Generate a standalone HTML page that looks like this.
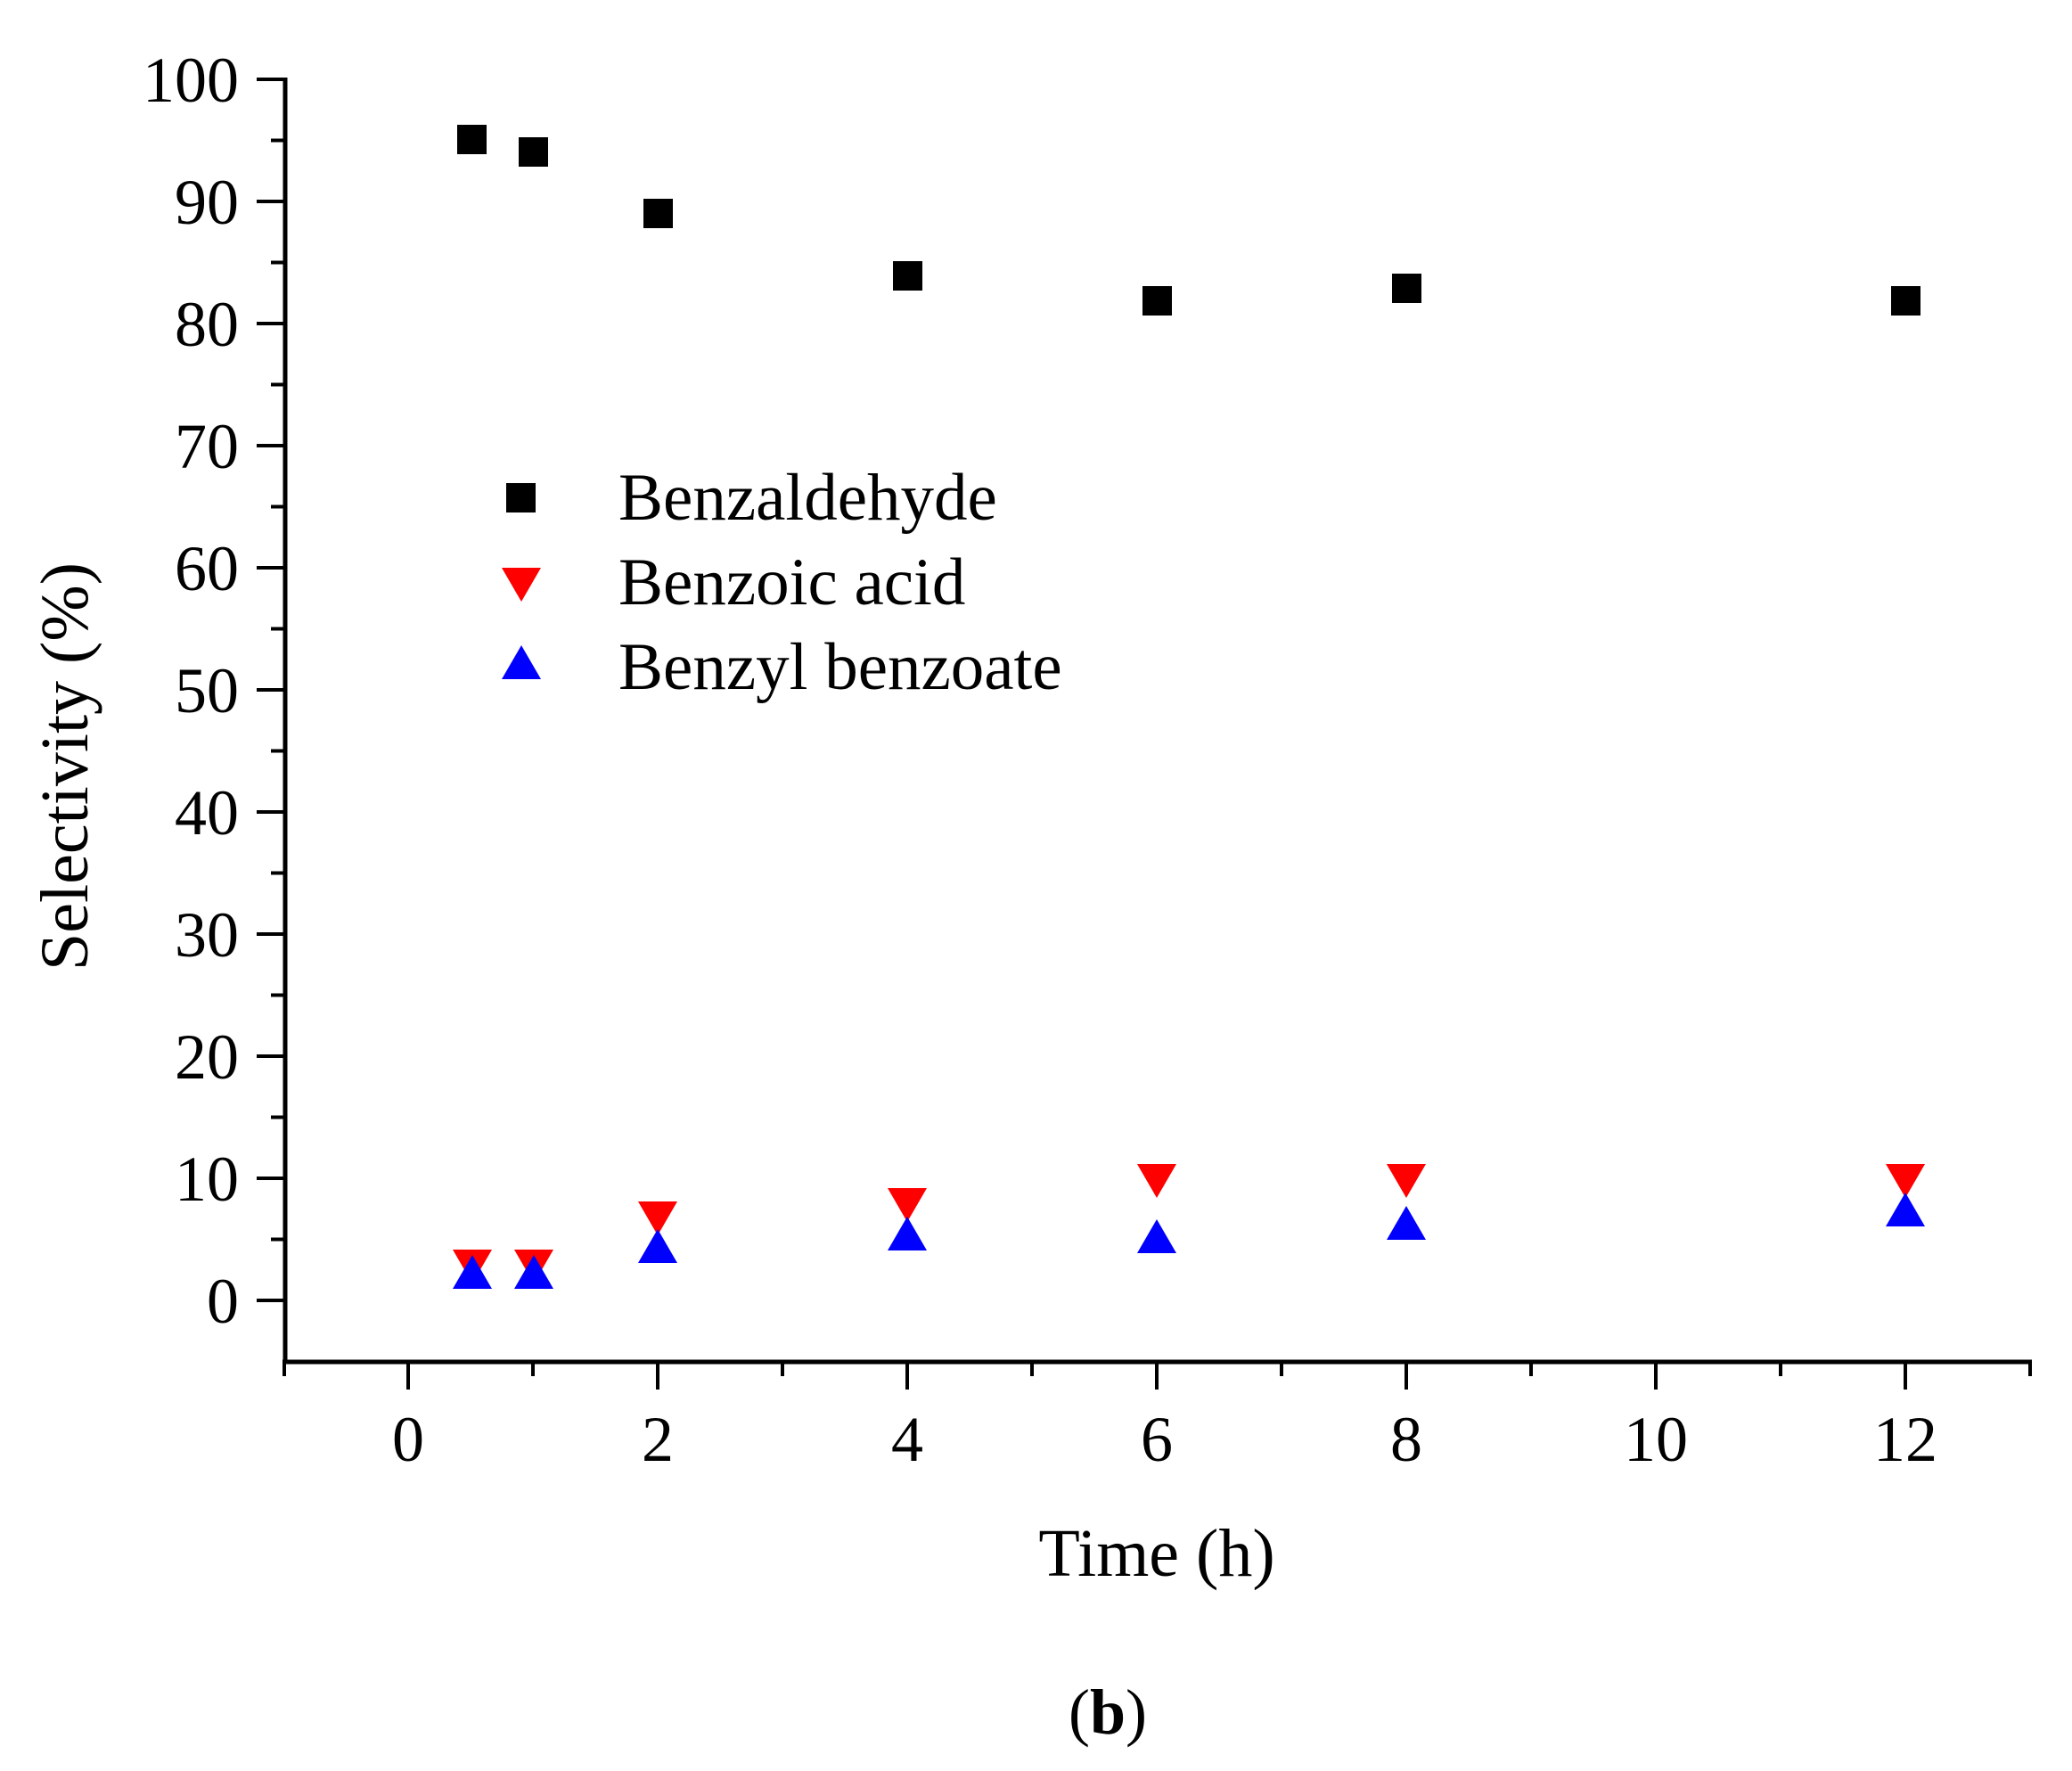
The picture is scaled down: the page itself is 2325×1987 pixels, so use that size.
<!DOCTYPE html>
<html><head><meta charset="utf-8"><style>
html,body{margin:0;padding:0;background:#fff}
svg{display:block}
text{font-family:"Liberation Serif",serif;fill:#000}
</style></head><body>
<svg width="2325" height="1987" viewBox="0 0 2325 1987" xmlns="http://www.w3.org/2000/svg">
<rect width="2325" height="1987" fill="#fff"/>
<g stroke="#000" stroke-width="5" fill="none">
<line x1="320" y1="87" x2="320" y2="1530"/>
<line x1="317" y1="1528" x2="2280" y2="1528"/>
</g>
<g stroke="#000" stroke-width="4">
<line x1="288" y1="89" x2="320" y2="89"/><line x1="288" y1="226" x2="320" y2="226"/>
<line x1="288" y1="363" x2="320" y2="363"/><line x1="288" y1="500" x2="320" y2="500"/>
<line x1="288" y1="637" x2="320" y2="637"/><line x1="288" y1="774" x2="320" y2="774"/>
<line x1="288" y1="911" x2="320" y2="911"/><line x1="288" y1="1048" x2="320" y2="1048"/>
<line x1="288" y1="1185" x2="320" y2="1185"/><line x1="288" y1="1322" x2="320" y2="1322"/>
<line x1="288" y1="1459" x2="320" y2="1459"/>
<line x1="304" y1="157.5" x2="320" y2="157.5"/><line x1="304" y1="294.5" x2="320" y2="294.5"/>
<line x1="304" y1="431.5" x2="320" y2="431.5"/><line x1="304" y1="568.5" x2="320" y2="568.5"/>
<line x1="304" y1="705.5" x2="320" y2="705.5"/><line x1="304" y1="842.5" x2="320" y2="842.5"/>
<line x1="304" y1="979.5" x2="320" y2="979.5"/><line x1="304" y1="1116.5" x2="320" y2="1116.5"/>
<line x1="304" y1="1253.5" x2="320" y2="1253.5"/><line x1="304" y1="1390.5" x2="320" y2="1390.5"/>
<line x1="458" y1="1528" x2="458" y2="1559"/><line x1="738" y1="1528" x2="738" y2="1559"/>
<line x1="1018" y1="1528" x2="1018" y2="1559"/><line x1="1298" y1="1528" x2="1298" y2="1559"/>
<line x1="1578" y1="1528" x2="1578" y2="1559"/><line x1="1858" y1="1528" x2="1858" y2="1559"/>
<line x1="2138" y1="1528" x2="2138" y2="1559"/>
<line x1="319" y1="1528" x2="319" y2="1544"/><line x1="598" y1="1528" x2="598" y2="1544"/>
<line x1="878" y1="1528" x2="878" y2="1544"/><line x1="1158" y1="1528" x2="1158" y2="1544"/>
<line x1="1438" y1="1528" x2="1438" y2="1544"/><line x1="1718" y1="1528" x2="1718" y2="1544"/>
<line x1="1998" y1="1528" x2="1998" y2="1544"/><line x1="2278" y1="1528" x2="2278" y2="1544"/>
</g>
<g font-size="72" text-anchor="end">
<text x="268" y="114">100</text><text x="268" y="251">90</text><text x="268" y="388">80</text>
<text x="268" y="525">70</text><text x="268" y="662">60</text><text x="268" y="799">50</text>
<text x="268" y="936">40</text><text x="268" y="1073">30</text><text x="268" y="1210">20</text>
<text x="268" y="1347">10</text><text x="268" y="1484">0</text>
</g>
<g font-size="72" text-anchor="middle">
<text x="458" y="1639">0</text><text x="738" y="1639">2</text><text x="1018" y="1639">4</text>
<text x="1298" y="1639">6</text><text x="1578" y="1639">8</text><text x="1858" y="1639">10</text>
<text x="2138" y="1639">12</text>
</g>
<text x="1298" y="1768" font-size="76" text-anchor="middle">Time (h)</text>
<text x="1243" y="1945" font-size="72" text-anchor="middle">(<tspan font-weight="bold">b</tspan>)</text>
<text transform="translate(98,860) rotate(-90)" font-size="76" text-anchor="middle">Selectivity (%)</text>
<g fill="#000">
<rect x="513" y="140" width="33" height="33"/><rect x="582" y="154" width="33" height="33"/>
<rect x="722" y="223" width="33" height="33"/><rect x="1002" y="293" width="33" height="33"/>
<rect x="1282" y="321" width="33" height="33"/><rect x="1562" y="307" width="33" height="33"/>
<rect x="2122" y="321" width="33" height="33"/>
<rect x="568" y="542" width="33" height="33"/>
</g>
<defs>
<path id="dn" d="M-22,-19 L22,-19 L0,19 Z"/>
<path id="up" d="M-22,19 L22,19 L0,-19 Z"/>
</defs>
<g fill="#f00">
<use href="#dn" x="530" y="1421"/><use href="#dn" x="599" y="1421"/>
<use href="#dn" x="738" y="1367"/><use href="#dn" x="1018" y="1352"/>
<use href="#dn" x="1298" y="1325"/><use href="#dn" x="1578" y="1325"/>
<use href="#dn" x="2138" y="1325"/>
<use href="#dn" x="585" y="656"/>
</g>
<g fill="#00f">
<use href="#up" x="530" y="1427"/><use href="#up" x="599" y="1427"/>
<use href="#up" x="738" y="1398"/><use href="#up" x="1018" y="1384"/>
<use href="#up" x="1298" y="1387"/><use href="#up" x="1578" y="1372"/>
<use href="#up" x="2138" y="1357"/>
<use href="#up" x="585" y="743"/>
</g>
<g font-size="75">
<text x="694" y="583">Benzaldehyde</text>
<text x="694" y="678">Benzoic acid</text>
<text x="694" y="773">Benzyl benzoate</text>
</g>
</svg>
</body></html>
